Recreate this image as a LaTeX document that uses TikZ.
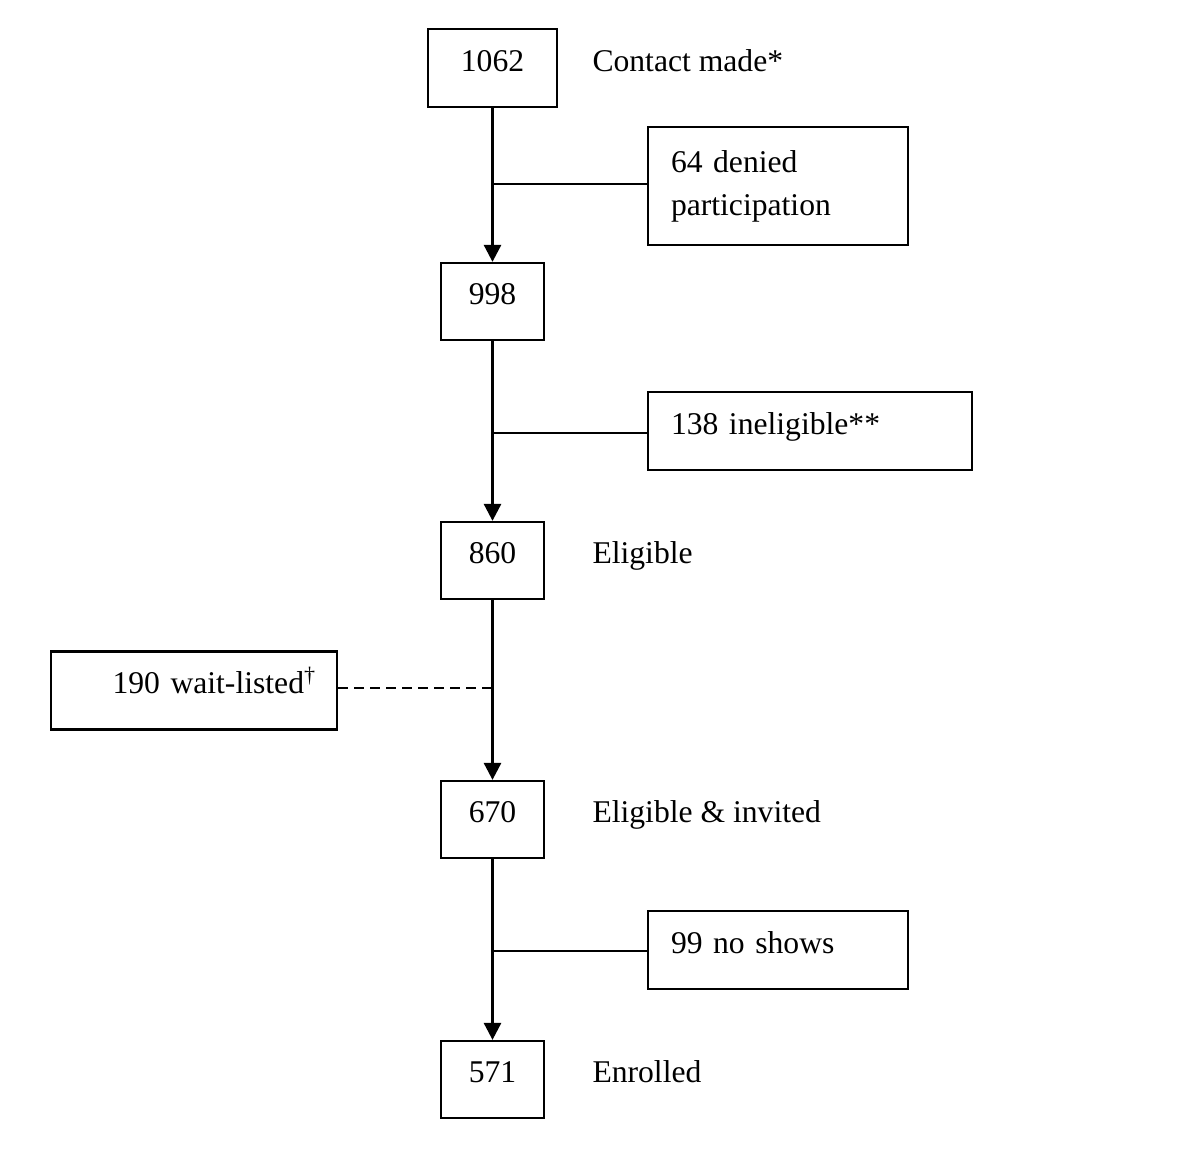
\documentclass[tikz,border=0pt]{standalone}
\usepackage{fontspec}
\setmainfont{Liberation Serif}
\usetikzlibrary{arrows.meta,positioning}

\begin{document}
\begin{tikzpicture}[font=\fontsize{18}{24.4}\selectfont]

   \tikzstyle{every edge}=[-{Triangle[length=0.34cm,width=0.34cm]},draw,line width=1.6pt]
   \tikzstyle{count}=[draw, line width=1.3pt, minimum width=2.06cm, minimum height=1.54cm, inner sep=0pt]
   \tikzstyle{side}=[draw, line width=1.3pt, minimum height=1.56cm, inner xsep=0.46cm, align=left]
   \tikzstyle{oneline}=[text height=0.45cm, text depth=0.33cm]
   \tikzstyle{stage}=[inner sep=0pt]
   \tikzstyle{branch}=[line width=1.1pt]

   \useasboundingbox (0,0) rectangle (24,-23.06);

   \node[count, oneline, minimum width=2.58cm, minimum height=1.56cm] (N1062) at (9.85,-1.36) {1062};
    \node[count, oneline] (N998) at (9.85,-6.03) {998};
    \node[count, oneline] (N860) at (9.85,-11.21) {860};
    \node[count, oneline] (N670) at (9.85,-16.39) {670};
    \node[count, oneline] (N571) at (9.85,-21.59) {571};

    \node[side, minimum height=2.36cm, text width=4.28cm] (Denied) at (15.56,-3.72) {64 denied\\participation};
    \node[side, oneline, text width=5.56cm] (Inelig) at (16.2,-8.62) {138 ineligible**};
    \node[side, oneline, inner xsep=0.12cm, text width=5.48cm, align=right] (Wait) at (3.88,-13.81) {190 wait-listed\textsuperscript{\textdagger}\kern0.3cm};
    \node[side, oneline, text width=4.28cm] (NoShow) at (15.56,-19.0) {99 no shows};

    \node[stage, base right=0.68cm of N1062] (LContact) {Contact made*};
    \node[stage, base right=0.94cm of N860] (LEligible) {Eligible};
    \node[stage, base right=0.94cm of N670] (LInvited) {Eligible \& invited};
    \node[stage, base right=0.94cm of N571] (LEnrolled) {Enrolled};

    \coordinate (B1) at (9.85,-3.68);
    \coordinate (B2) at (9.85,-8.66);
    \coordinate (B3) at (9.85,-13.76);
    \coordinate (B4) at (9.85,-19.02);

    \path (N1062) edge (N998);
    \path (N998) edge (N860);
    \path (N860) edge (N670);
    \path (N670) edge (N571);

    \draw[branch] (B1) -- (B1 -| Denied.west);
    \draw[branch] (B2) -- (B2 -| Inelig.west);
    \draw[branch, dash pattern=on 5.7pt off 3.4pt] (B3 -| Wait.east) -- (B3);
    \draw[branch] (B4) -- (B4 -| NoShow.west);
 \end{tikzpicture}
\end{document}
